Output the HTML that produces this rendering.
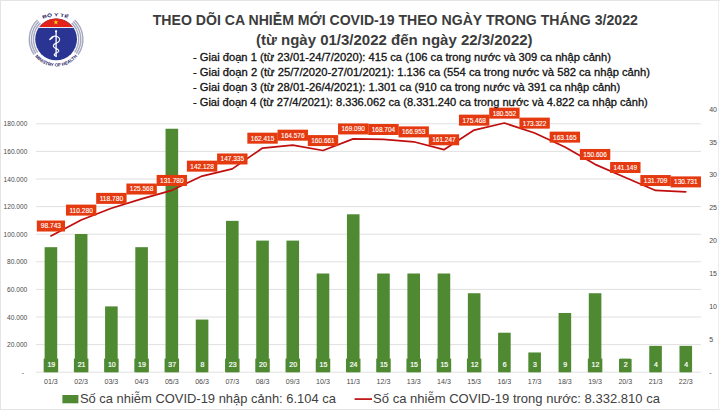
<!DOCTYPE html>
<html lang="vi"><head><meta charset="utf-8"><title>COVID-19 3/2022</title>
<style>html,body{margin:0;padding:0;background:#fff}body{width:720px;height:410px;overflow:hidden}</style></head>
<body>
<svg width="720" height="410" viewBox="0 0 720 410" style="display:block" font-family="Liberation Sans, sans-serif">
<rect width="720" height="410" fill="#fff"/>
<line x1="35.8" x2="700.9" y1="372.20" y2="372.20" stroke="#e0e0e0" stroke-width="1"/>
<line x1="35.8" x2="700.9" y1="344.60" y2="344.60" stroke="#e0e0e0" stroke-width="1"/>
<line x1="35.8" x2="700.9" y1="317.00" y2="317.00" stroke="#e0e0e0" stroke-width="1"/>
<line x1="35.8" x2="700.9" y1="289.40" y2="289.40" stroke="#e0e0e0" stroke-width="1"/>
<line x1="35.8" x2="700.9" y1="261.80" y2="261.80" stroke="#e0e0e0" stroke-width="1"/>
<line x1="35.8" x2="700.9" y1="234.20" y2="234.20" stroke="#e0e0e0" stroke-width="1"/>
<line x1="35.8" x2="700.9" y1="206.60" y2="206.60" stroke="#e0e0e0" stroke-width="1"/>
<line x1="35.8" x2="700.9" y1="179.00" y2="179.00" stroke="#e0e0e0" stroke-width="1"/>
<line x1="35.8" x2="700.9" y1="151.40" y2="151.40" stroke="#e0e0e0" stroke-width="1"/>
<line x1="35.8" x2="700.9" y1="123.80" y2="123.80" stroke="#e0e0e0" stroke-width="1"/>
<text x="27.3" y="347.20" font-size="7" fill="#4a4a4a" text-anchor="end" textLength="20.3" lengthAdjust="spacingAndGlyphs">20.000</text>
<text x="27.3" y="319.60" font-size="7" fill="#4a4a4a" text-anchor="end" textLength="20.3" lengthAdjust="spacingAndGlyphs">40.000</text>
<text x="27.3" y="292.00" font-size="7" fill="#4a4a4a" text-anchor="end" textLength="20.3" lengthAdjust="spacingAndGlyphs">60.000</text>
<text x="27.3" y="264.40" font-size="7" fill="#4a4a4a" text-anchor="end" textLength="20.3" lengthAdjust="spacingAndGlyphs">80.000</text>
<text x="27.3" y="236.80" font-size="7" fill="#4a4a4a" text-anchor="end" textLength="23.7" lengthAdjust="spacingAndGlyphs">100.000</text>
<text x="27.3" y="209.20" font-size="7" fill="#4a4a4a" text-anchor="end" textLength="23.7" lengthAdjust="spacingAndGlyphs">120.000</text>
<text x="27.3" y="181.60" font-size="7" fill="#4a4a4a" text-anchor="end" textLength="23.7" lengthAdjust="spacingAndGlyphs">140.000</text>
<text x="27.3" y="154.00" font-size="7" fill="#4a4a4a" text-anchor="end" textLength="23.7" lengthAdjust="spacingAndGlyphs">160.000</text>
<text x="27.3" y="126.40" font-size="7" fill="#4a4a4a" text-anchor="end" textLength="23.7" lengthAdjust="spacingAndGlyphs">180.000</text>
<text x="24.2" y="374.80" font-size="7" fill="#4a4a4a" text-anchor="end">-</text>
<text x="709.2" y="374.80" font-size="7" fill="#4a4a4a">-</text>
<text x="709.2" y="341.90" font-size="7" fill="#4a4a4a">5</text>
<text x="709.2" y="309.00" font-size="7" fill="#4a4a4a">10</text>
<text x="709.2" y="276.10" font-size="7" fill="#4a4a4a">15</text>
<text x="709.2" y="243.20" font-size="7" fill="#4a4a4a">20</text>
<text x="709.2" y="210.30" font-size="7" fill="#4a4a4a">25</text>
<text x="709.2" y="177.40" font-size="7" fill="#4a4a4a">30</text>
<text x="709.2" y="144.50" font-size="7" fill="#4a4a4a">35</text>
<text x="709.2" y="111.60" font-size="7" fill="#4a4a4a">40</text>
<rect x="44.62" y="247.18" width="12.6" height="125.02" fill="#4f8a33"/>
<rect x="74.85" y="234.02" width="12.6" height="138.18" fill="#4f8a33"/>
<rect x="105.08" y="306.40" width="12.6" height="65.80" fill="#4f8a33"/>
<rect x="135.31" y="247.18" width="12.6" height="125.02" fill="#4f8a33"/>
<rect x="165.54" y="128.74" width="12.6" height="243.46" fill="#4f8a33"/>
<rect x="195.77" y="319.56" width="12.6" height="52.64" fill="#4f8a33"/>
<rect x="226.01" y="220.86" width="12.6" height="151.34" fill="#4f8a33"/>
<rect x="256.24" y="240.60" width="12.6" height="131.60" fill="#4f8a33"/>
<rect x="286.47" y="240.60" width="12.6" height="131.60" fill="#4f8a33"/>
<rect x="316.70" y="273.50" width="12.6" height="98.70" fill="#4f8a33"/>
<rect x="346.93" y="214.28" width="12.6" height="157.92" fill="#4f8a33"/>
<rect x="377.17" y="273.50" width="12.6" height="98.70" fill="#4f8a33"/>
<rect x="407.40" y="273.50" width="12.6" height="98.70" fill="#4f8a33"/>
<rect x="437.63" y="273.50" width="12.6" height="98.70" fill="#4f8a33"/>
<rect x="467.86" y="293.24" width="12.6" height="78.96" fill="#4f8a33"/>
<rect x="498.09" y="332.72" width="12.6" height="39.48" fill="#4f8a33"/>
<rect x="528.33" y="352.46" width="12.6" height="19.74" fill="#4f8a33"/>
<rect x="558.56" y="312.98" width="12.6" height="59.22" fill="#4f8a33"/>
<rect x="588.79" y="293.24" width="12.6" height="78.96" fill="#4f8a33"/>
<rect x="619.02" y="359.04" width="12.6" height="13.16" fill="#4f8a33"/>
<rect x="649.25" y="345.88" width="12.6" height="26.32" fill="#4f8a33"/>
<rect x="679.48" y="345.88" width="12.6" height="26.32" fill="#4f8a33"/>
<rect x="43.67" y="358.60" width="14.5" height="13.6" fill="#4f8a33"/>
<text x="51.32" y="367.10" font-size="7" fill="#fff" stroke="#fff" stroke-width="0.2" text-anchor="middle">19</text>
<rect x="73.90" y="358.60" width="14.5" height="13.6" fill="#4f8a33"/>
<text x="81.55" y="367.10" font-size="7" fill="#fff" stroke="#fff" stroke-width="0.2" text-anchor="middle">21</text>
<rect x="104.13" y="358.60" width="14.5" height="13.6" fill="#4f8a33"/>
<text x="111.78" y="367.10" font-size="7" fill="#fff" stroke="#fff" stroke-width="0.2" text-anchor="middle">10</text>
<rect x="134.36" y="358.60" width="14.5" height="13.6" fill="#4f8a33"/>
<text x="142.01" y="367.10" font-size="7" fill="#fff" stroke="#fff" stroke-width="0.2" text-anchor="middle">19</text>
<rect x="164.59" y="358.60" width="14.5" height="13.6" fill="#4f8a33"/>
<text x="172.24" y="367.10" font-size="7" fill="#fff" stroke="#fff" stroke-width="0.2" text-anchor="middle">37</text>
<rect x="196.77" y="358.60" width="10.6" height="13.6" fill="#4f8a33"/>
<text x="202.47" y="367.10" font-size="7" fill="#fff" stroke="#fff" stroke-width="0.2" text-anchor="middle">8</text>
<rect x="225.06" y="358.60" width="14.5" height="13.6" fill="#4f8a33"/>
<text x="232.71" y="367.10" font-size="7" fill="#fff" stroke="#fff" stroke-width="0.2" text-anchor="middle">23</text>
<rect x="255.29" y="358.60" width="14.5" height="13.6" fill="#4f8a33"/>
<text x="262.94" y="367.10" font-size="7" fill="#fff" stroke="#fff" stroke-width="0.2" text-anchor="middle">20</text>
<rect x="285.52" y="358.60" width="14.5" height="13.6" fill="#4f8a33"/>
<text x="293.17" y="367.10" font-size="7" fill="#fff" stroke="#fff" stroke-width="0.2" text-anchor="middle">20</text>
<rect x="315.75" y="358.60" width="14.5" height="13.6" fill="#4f8a33"/>
<text x="323.40" y="367.10" font-size="7" fill="#fff" stroke="#fff" stroke-width="0.2" text-anchor="middle">15</text>
<rect x="345.98" y="358.60" width="14.5" height="13.6" fill="#4f8a33"/>
<text x="353.63" y="367.10" font-size="7" fill="#fff" stroke="#fff" stroke-width="0.2" text-anchor="middle">24</text>
<rect x="376.22" y="358.60" width="14.5" height="13.6" fill="#4f8a33"/>
<text x="383.87" y="367.10" font-size="7" fill="#fff" stroke="#fff" stroke-width="0.2" text-anchor="middle">15</text>
<rect x="406.45" y="358.60" width="14.5" height="13.6" fill="#4f8a33"/>
<text x="414.10" y="367.10" font-size="7" fill="#fff" stroke="#fff" stroke-width="0.2" text-anchor="middle">15</text>
<rect x="436.68" y="358.60" width="14.5" height="13.6" fill="#4f8a33"/>
<text x="444.33" y="367.10" font-size="7" fill="#fff" stroke="#fff" stroke-width="0.2" text-anchor="middle">15</text>
<rect x="466.91" y="358.60" width="14.5" height="13.6" fill="#4f8a33"/>
<text x="474.56" y="367.10" font-size="7" fill="#fff" stroke="#fff" stroke-width="0.2" text-anchor="middle">12</text>
<rect x="499.09" y="358.60" width="10.6" height="13.6" fill="#4f8a33"/>
<text x="504.79" y="367.10" font-size="7" fill="#fff" stroke="#fff" stroke-width="0.2" text-anchor="middle">6</text>
<rect x="529.33" y="358.60" width="10.6" height="13.6" fill="#4f8a33"/>
<text x="535.02" y="367.10" font-size="7" fill="#fff" stroke="#fff" stroke-width="0.2" text-anchor="middle">3</text>
<rect x="559.56" y="358.60" width="10.6" height="13.6" fill="#4f8a33"/>
<text x="565.26" y="367.10" font-size="7" fill="#fff" stroke="#fff" stroke-width="0.2" text-anchor="middle">9</text>
<rect x="587.84" y="358.60" width="14.5" height="13.6" fill="#4f8a33"/>
<text x="595.49" y="367.10" font-size="7" fill="#fff" stroke="#fff" stroke-width="0.2" text-anchor="middle">12</text>
<rect x="620.02" y="358.60" width="10.6" height="13.6" fill="#4f8a33"/>
<text x="625.72" y="367.10" font-size="7" fill="#fff" stroke="#fff" stroke-width="0.2" text-anchor="middle">2</text>
<rect x="650.25" y="358.60" width="10.6" height="13.6" fill="#4f8a33"/>
<text x="655.95" y="367.10" font-size="7" fill="#fff" stroke="#fff" stroke-width="0.2" text-anchor="middle">4</text>
<rect x="680.48" y="358.60" width="10.6" height="13.6" fill="#4f8a33"/>
<text x="686.18" y="367.10" font-size="7" fill="#fff" stroke="#fff" stroke-width="0.2" text-anchor="middle">4</text>
<text x="50.92" y="384.00" font-size="7.1" fill="#4a4a4a" text-anchor="middle">01/3</text>
<text x="81.15" y="384.00" font-size="7.1" fill="#4a4a4a" text-anchor="middle">02/3</text>
<text x="111.38" y="384.00" font-size="7.1" fill="#4a4a4a" text-anchor="middle">03/3</text>
<text x="141.61" y="384.00" font-size="7.1" fill="#4a4a4a" text-anchor="middle">04/3</text>
<text x="171.84" y="384.00" font-size="7.1" fill="#4a4a4a" text-anchor="middle">05/3</text>
<text x="202.07" y="384.00" font-size="7.1" fill="#4a4a4a" text-anchor="middle">06/3</text>
<text x="232.31" y="384.00" font-size="7.1" fill="#4a4a4a" text-anchor="middle">07/3</text>
<text x="262.54" y="384.00" font-size="7.1" fill="#4a4a4a" text-anchor="middle">08/3</text>
<text x="292.77" y="384.00" font-size="7.1" fill="#4a4a4a" text-anchor="middle">09/3</text>
<text x="323.00" y="384.00" font-size="7.1" fill="#4a4a4a" text-anchor="middle">10/3</text>
<text x="353.23" y="384.00" font-size="7.1" fill="#4a4a4a" text-anchor="middle">11/3</text>
<text x="383.47" y="384.00" font-size="7.1" fill="#4a4a4a" text-anchor="middle">12/3</text>
<text x="413.70" y="384.00" font-size="7.1" fill="#4a4a4a" text-anchor="middle">13/3</text>
<text x="443.93" y="384.00" font-size="7.1" fill="#4a4a4a" text-anchor="middle">14/3</text>
<text x="474.16" y="384.00" font-size="7.1" fill="#4a4a4a" text-anchor="middle">15/3</text>
<text x="504.39" y="384.00" font-size="7.1" fill="#4a4a4a" text-anchor="middle">16/3</text>
<text x="534.62" y="384.00" font-size="7.1" fill="#4a4a4a" text-anchor="middle">17/3</text>
<text x="564.86" y="384.00" font-size="7.1" fill="#4a4a4a" text-anchor="middle">18/3</text>
<text x="595.09" y="384.00" font-size="7.1" fill="#4a4a4a" text-anchor="middle">19/3</text>
<text x="625.32" y="384.00" font-size="7.1" fill="#4a4a4a" text-anchor="middle">20/3</text>
<text x="655.55" y="384.00" font-size="7.1" fill="#4a4a4a" text-anchor="middle">21/3</text>
<text x="685.78" y="384.00" font-size="7.1" fill="#4a4a4a" text-anchor="middle">22/3</text>
<polyline points="50.92,235.93 81.15,220.01 111.38,208.28 141.61,198.92 171.84,190.34 202.07,176.06 232.31,168.88 262.54,148.07 292.77,145.09 323.00,150.49 353.23,138.86 383.47,139.39 413.70,141.80 443.93,149.68 474.16,130.05 504.39,123.04 534.62,133.02 564.86,147.03 595.09,164.36 625.32,177.41 655.55,190.44 685.78,191.79" fill="none" stroke="#c00d0d" stroke-width="1.7" stroke-linejoin="round" stroke-linecap="round"/>
<rect x="36.82" y="220.53" width="28.2" height="11" fill="#e5390f"/>
<text x="50.92" y="228.43" font-size="6.9" fill="#fff" stroke="#fff" stroke-width="0.12" text-anchor="middle" textLength="20.2" lengthAdjust="spacingAndGlyphs">98.743</text>
<rect x="65.95" y="204.61" width="30.4" height="11" fill="#e5390f"/>
<text x="81.15" y="212.51" font-size="6.9" fill="#fff" stroke="#fff" stroke-width="0.12" text-anchor="middle" textLength="23.5" lengthAdjust="spacingAndGlyphs">110.280</text>
<rect x="96.18" y="192.88" width="30.4" height="11" fill="#e5390f"/>
<text x="111.38" y="200.78" font-size="6.9" fill="#fff" stroke="#fff" stroke-width="0.12" text-anchor="middle" textLength="23.5" lengthAdjust="spacingAndGlyphs">118.780</text>
<rect x="126.41" y="183.52" width="30.4" height="11" fill="#e5390f"/>
<text x="141.61" y="191.42" font-size="6.9" fill="#fff" stroke="#fff" stroke-width="0.12" text-anchor="middle" textLength="23.5" lengthAdjust="spacingAndGlyphs">125.568</text>
<rect x="156.64" y="174.94" width="30.4" height="11" fill="#e5390f"/>
<text x="171.84" y="182.84" font-size="6.9" fill="#fff" stroke="#fff" stroke-width="0.12" text-anchor="middle" textLength="23.5" lengthAdjust="spacingAndGlyphs">131.780</text>
<rect x="186.88" y="160.66" width="30.4" height="11" fill="#e5390f"/>
<text x="202.07" y="168.56" font-size="6.9" fill="#fff" stroke="#fff" stroke-width="0.12" text-anchor="middle" textLength="23.5" lengthAdjust="spacingAndGlyphs">142.128</text>
<rect x="217.11" y="153.48" width="30.4" height="11" fill="#e5390f"/>
<text x="232.31" y="161.38" font-size="6.9" fill="#fff" stroke="#fff" stroke-width="0.12" text-anchor="middle" textLength="23.5" lengthAdjust="spacingAndGlyphs">147.335</text>
<rect x="247.34" y="132.67" width="30.4" height="11" fill="#e5390f"/>
<text x="262.54" y="140.57" font-size="6.9" fill="#fff" stroke="#fff" stroke-width="0.12" text-anchor="middle" textLength="23.5" lengthAdjust="spacingAndGlyphs">162.415</text>
<rect x="277.57" y="129.69" width="30.4" height="11" fill="#e5390f"/>
<text x="292.77" y="137.59" font-size="6.9" fill="#fff" stroke="#fff" stroke-width="0.12" text-anchor="middle" textLength="23.5" lengthAdjust="spacingAndGlyphs">164.576</text>
<rect x="307.80" y="135.09" width="30.4" height="11" fill="#e5390f"/>
<text x="323.00" y="142.99" font-size="6.9" fill="#fff" stroke="#fff" stroke-width="0.12" text-anchor="middle" textLength="23.5" lengthAdjust="spacingAndGlyphs">160.661</text>
<rect x="338.03" y="123.46" width="30.4" height="11" fill="#e5390f"/>
<text x="353.23" y="131.36" font-size="6.9" fill="#fff" stroke="#fff" stroke-width="0.12" text-anchor="middle" textLength="23.5" lengthAdjust="spacingAndGlyphs">169.090</text>
<rect x="368.27" y="123.99" width="30.4" height="11" fill="#e5390f"/>
<text x="383.47" y="131.89" font-size="6.9" fill="#fff" stroke="#fff" stroke-width="0.12" text-anchor="middle" textLength="23.5" lengthAdjust="spacingAndGlyphs">168.704</text>
<rect x="398.50" y="126.40" width="30.4" height="11" fill="#e5390f"/>
<text x="413.70" y="134.30" font-size="6.9" fill="#fff" stroke="#fff" stroke-width="0.12" text-anchor="middle" textLength="23.5" lengthAdjust="spacingAndGlyphs">166.953</text>
<rect x="428.73" y="134.28" width="30.4" height="11" fill="#e5390f"/>
<text x="443.93" y="142.18" font-size="6.9" fill="#fff" stroke="#fff" stroke-width="0.12" text-anchor="middle" textLength="23.5" lengthAdjust="spacingAndGlyphs">161.247</text>
<rect x="458.96" y="114.65" width="30.4" height="11" fill="#e5390f"/>
<text x="474.16" y="122.55" font-size="6.9" fill="#fff" stroke="#fff" stroke-width="0.12" text-anchor="middle" textLength="23.5" lengthAdjust="spacingAndGlyphs">175.468</text>
<rect x="489.19" y="107.64" width="30.4" height="11" fill="#e5390f"/>
<text x="504.39" y="115.54" font-size="6.9" fill="#fff" stroke="#fff" stroke-width="0.12" text-anchor="middle" textLength="23.5" lengthAdjust="spacingAndGlyphs">180.552</text>
<rect x="519.42" y="117.62" width="30.4" height="11" fill="#e5390f"/>
<text x="534.62" y="125.52" font-size="6.9" fill="#fff" stroke="#fff" stroke-width="0.12" text-anchor="middle" textLength="23.5" lengthAdjust="spacingAndGlyphs">173.322</text>
<rect x="549.66" y="131.63" width="30.4" height="11" fill="#e5390f"/>
<text x="564.86" y="139.53" font-size="6.9" fill="#fff" stroke="#fff" stroke-width="0.12" text-anchor="middle" textLength="23.5" lengthAdjust="spacingAndGlyphs">163.165</text>
<rect x="579.89" y="148.96" width="30.4" height="11" fill="#e5390f"/>
<text x="595.09" y="156.86" font-size="6.9" fill="#fff" stroke="#fff" stroke-width="0.12" text-anchor="middle" textLength="23.5" lengthAdjust="spacingAndGlyphs">150.606</text>
<rect x="610.12" y="162.01" width="30.4" height="11" fill="#e5390f"/>
<text x="625.32" y="169.91" font-size="6.9" fill="#fff" stroke="#fff" stroke-width="0.12" text-anchor="middle" textLength="23.5" lengthAdjust="spacingAndGlyphs">141.149</text>
<rect x="640.35" y="175.04" width="30.4" height="11" fill="#e5390f"/>
<text x="655.55" y="182.94" font-size="6.9" fill="#fff" stroke="#fff" stroke-width="0.12" text-anchor="middle" textLength="23.5" lengthAdjust="spacingAndGlyphs">131.709</text>
<rect x="670.58" y="176.39" width="30.4" height="11" fill="#e5390f"/>
<text x="685.78" y="184.29" font-size="6.9" fill="#fff" stroke="#fff" stroke-width="0.12" text-anchor="middle" textLength="23.5" lengthAdjust="spacingAndGlyphs">130.731</text>
<text x="152.7" y="24.8" font-size="14" font-weight="bold" fill="#3c3c3c" textLength="485.2" lengthAdjust="spacingAndGlyphs">THEO DÕI CA NHIỄM MỚI COVID-19 THEO NGÀY TRONG THÁNG 3/2022</text>
<text x="256" y="45.4" font-size="14.6" font-weight="bold" fill="#3c3c3c" textLength="276.6" lengthAdjust="spacingAndGlyphs">(từ ngày 01/3/2022 đến ngày 22/3/2022)</text>
<text x="193" y="61.35" font-size="10.3" fill="#111" stroke="#111" stroke-width="0.28" textLength="418.0" lengthAdjust="spacingAndGlyphs">- Giai đoạn 1 (từ 23/01-24/7/2020): 415 ca (106 ca trong nước và 309 ca nhập cảnh)</text>
<text x="193" y="76.20" font-size="10.3" fill="#111" stroke="#111" stroke-width="0.28" textLength="457.0" lengthAdjust="spacingAndGlyphs">- Giai đoạn 2 (từ 25/7/2020-27/01/2021): 1.136 ca (554 ca trong nước và 582 ca nhập cảnh)</text>
<text x="193" y="91.05" font-size="10.3" fill="#111" stroke="#111" stroke-width="0.28" textLength="427.3" lengthAdjust="spacingAndGlyphs">- Giai đoạn 3 (từ 28/01-26/4/2021): 1.301 ca (910 ca trong nước và 391 ca nhập cảnh)</text>
<text x="193" y="105.90" font-size="10.3" fill="#111" stroke="#111" stroke-width="0.28" textLength="454.8" lengthAdjust="spacingAndGlyphs">- Giai đoạn 4 (từ 27/4/2021): 8.336.062 ca (8.331.240 ca trong nước và 4.822 ca nhập cảnh)</text>
<rect x="62.4" y="395" width="16" height="8.3" fill="#4f8a33"/>
<text x="79.9" y="403.2" font-size="12.8" fill="#404040" textLength="256" lengthAdjust="spacingAndGlyphs">Số ca nhiễm COVID-19 nhập cảnh: 6.104 ca</text>
<line x1="354.6" x2="372" y1="399.1" y2="399.1" stroke="#c00d0d" stroke-width="1.7"/>
<text x="373.1" y="402.7" font-size="13" fill="#404040" textLength="286.8" lengthAdjust="spacingAndGlyphs">Số ca nhiễm COVID-19 trong nước: 8.332.810 ca</text>
<g id="logo">
<path d="M40.40,23.09 A22.6,22.6 0 0 0 37.59,52.31" fill="none" stroke="#a6a9be" stroke-width="1.4"/>
<path d="M71.80,23.09 A22.6,22.6 0 0 1 74.61,52.31" fill="none" stroke="#a6a9be" stroke-width="1.4"/>
<path d="M38.94,21.58 A24.7,24.7 0 0 0 35.87,53.52" fill="none" stroke="#a6a9be" stroke-width="1.4"/>
<path d="M73.26,21.58 A24.7,24.7 0 0 1 76.33,53.52" fill="none" stroke="#a6a9be" stroke-width="1.4"/>
<path d="M37.48,20.07 A26.8,26.8 0 0 0 34.15,54.72" fill="none" stroke="#a6a9be" stroke-width="1.4"/>
<path d="M74.72,20.07 A26.8,26.8 0 0 1 78.05,54.72" fill="none" stroke="#a6a9be" stroke-width="1.4"/>
<circle cx="56.1" cy="39.35" r="20.9" fill="#2a3593"/>
<path d="M39.24,27.0 A20.9,20.9 0 0 1 72.96,27.0 Z" fill="#e2231a"/>
<rect x="38.74" y="27.0" width="34.72" height="0.9" fill="#fff"/>
<polygon points="55.90,19.70 56.52,21.45 58.37,21.50 56.90,22.62 57.43,24.40 55.90,23.35 54.37,24.40 54.90,22.62 53.43,21.50 55.28,21.45" fill="#ffe11a"/>
<line x1="56.1" x2="56.1" y1="31.2" y2="56.3" stroke="#fff" stroke-width="1.3" stroke-linecap="round"/>
<circle cx="56.1" cy="31.3" r="1.1" fill="#fff"/>
<path d="M50.6,38.6 C52.5,35.6 56.5,35.4 58.8,37.6 C61.2,40 58.5,42.4 56,43.4 C53.2,44.5 52.4,46.4 54.6,47.8 C56.6,49 59.6,49.6 58.6,51.6 C57.8,53.1 54.4,52.9 54.2,54.6 C54.1,55.6 55.3,56 56.3,56.2" fill="none" stroke="#fff" stroke-width="1.15" stroke-linecap="round" stroke-linejoin="round"/>
<path d="M49.9,39.4 L52.6,37.4" stroke="#fff" stroke-width="1.5" stroke-linecap="round"/>
<path id="arcTop" d="M42.80,18.81 A36.0,36.0 0 0 1 69.20,18.81" fill="none"/>
<text font-size="4.5" font-weight="bold" fill="#1d2166" textLength="26" lengthAdjust="spacingAndGlyphs"><textPath href="#arcTop" textLength="26" lengthAdjust="spacingAndGlyphs">BỘ Y TẾ</textPath></text>
<path id="arcBot" d="M34.96,56.47 A27.2,27.2 0 0 0 77.24,56.47" fill="none"/>
<text font-size="4.6" font-weight="bold" fill="#1d2166"><textPath href="#arcBot" textLength="48.4" lengthAdjust="spacingAndGlyphs">MINISTRY OF HEALTH</textPath></text>
</g>
<rect x="0" y="0" width="720" height="1" fill="#e4e4e4"/><rect x="0" y="0" width="1" height="410" fill="#e4e4e4"/><rect x="0" y="409" width="720" height="1" fill="#e4e4e4"/><rect x="718" y="0" width="1" height="410" fill="#eeeeee"/>
</svg>
</body></html>
